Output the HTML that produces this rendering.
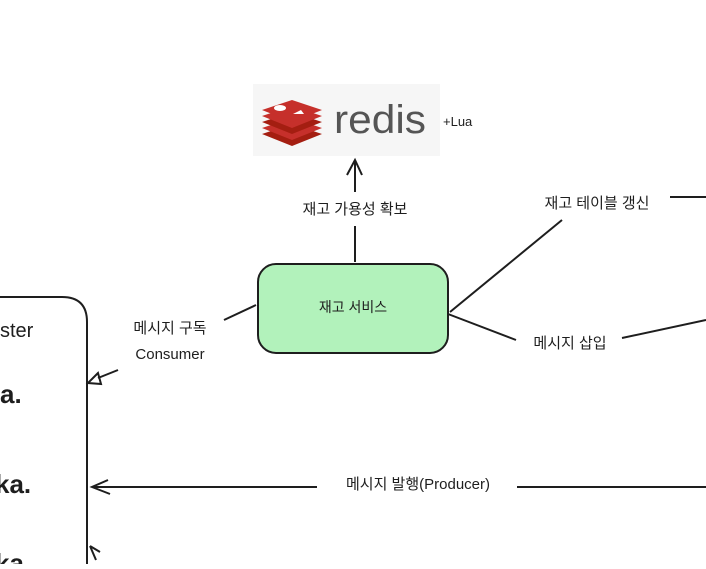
<!DOCTYPE html>
<html><head><meta charset="utf-8"><style>
body{margin:0;background:#fff;width:706px;height:564px;overflow:hidden}
text{font-family:"Liberation Sans","Noto Sans CJK KR",sans-serif;fill:#1e1e1e}
</style></head><body>
<svg width="706" height="564" viewBox="0 0 706 564" xmlns="http://www.w3.org/2000/svg">
<rect x="253" y="84" width="187" height="72" fill="#f6f6f6"/>
<g fill="#c6302b">
<path d="M262 134 l30 -10 l30 10 l-30 12z" fill="#a41e11"/>
<path d="M262 128 l30 -10 l30 10 l-30 12z"/>
<path d="M262 122 l30 -10 l30 10 l-30 12z" fill="#a41e11"/>
<path d="M262 116 l30 -10 l30 10 l-30 12z"/>
<path d="M262 110 l30 -10 l30 10 l-30 12z"/>
</g>
<ellipse cx="280" cy="108" rx="6" ry="3" fill="#fff"/>
<path d="M293 114 l8 -4 l3 4z" fill="#fff"/>
<text x="334" y="133" font-size="40" style="fill:#555" textLength="92" lengthAdjust="spacingAndGlyphs">redis</text>
<text x="443" y="126" font-size="13">+Lua</text>

<rect x="258" y="264" width="190" height="89" rx="18" fill="#b2f2bb" stroke="#1e1e1e" stroke-width="2"/>
<text x="353" y="312" font-size="14" text-anchor="middle">재고 서비스</text>

<g stroke="#1e1e1e" stroke-width="2" fill="none">
<path d="M355 262 L355 226"/><path d="M355 192 L355 160 M347 175 L355 160 L362 175"/>
<path d="M450 312 L562 220"/><path d="M670 197 L706 197"/>
<path d="M448 314 L516 340"/><path d="M622 338 L706 320"/>
<path d="M706 487 L517 487"/><path d="M317 487 L92 487 M108 480 L92 487 L110 494"/>
<path d="M256 305 L224 320"/><path d="M118 370 L98 378"/>
<path d="M98 373 L88 383 L101 384z"/>
<path d="M-10 297 L62 297 Q87 297 87 322 L87 564"/>
<path d="M90 546 L96 560 M90 546 L100 552"/>
</g>
<g font-size="15">
<text x="355" y="214" text-anchor="middle">재고 가용성 확보</text>
<text x="597" y="208" text-anchor="middle">재고 테이블 갱신</text>
<text x="570" y="348" text-anchor="middle">메시지 삽입</text>
<text x="418" y="489" text-anchor="middle">메시지 발행(Producer)</text>
<text x="170" y="333" text-anchor="middle">메시지 구독</text>
<text x="170" y="359" text-anchor="middle">Consumer</text>
</g>
<text x="0" y="337" font-size="20">ster</text>
<text x="0" y="403" font-size="26" font-weight="bold">a.</text>
<text x="-5" y="493" font-size="26" font-weight="bold">ka.</text>
<text x="-5" y="572" font-size="26" font-weight="bold">ka</text>
</svg>
</body></html>
